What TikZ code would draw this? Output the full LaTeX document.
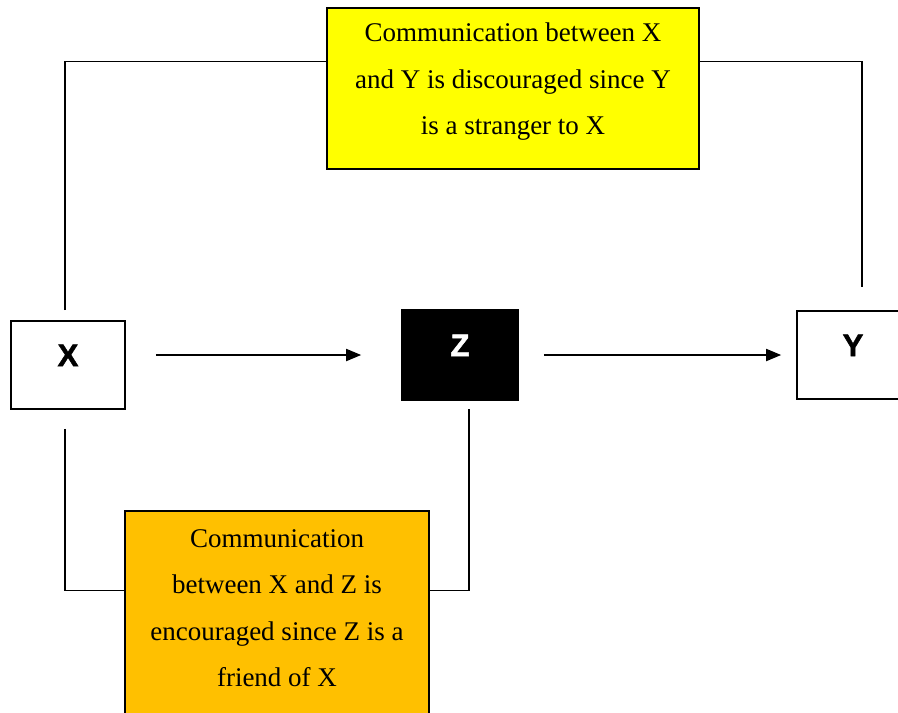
\documentclass[tikz,border=0pt]{standalone}
\usepackage{fontspec}
\setmainfont{Liberation Serif}
\newfontfamily\letterfont[BoldFeatures={FakeBold=1.6}]{Liberation Sans}
\usetikzlibrary{arrows.meta,positioning}
\definecolor{cNoteY}{HTML}{FFFF00}
\definecolor{cNoteO}{HTML}{FFC000}

\begin{document}
\begin{tikzpicture}[x=1pt,y=-1pt,
  party/.style={draw,line width=1.6pt,minimum width=114pt,minimum height=88pt,
    font=\letterfont\bfseries\fontsize{31}{31}\selectfont,text height=22pt,text depth=20pt},
  note/.style={draw,line width=1.6pt,inner sep=0pt},
  notetxt/.style={align=center,font=\fontsize{27}{46.5}\selectfont},
  link/.style={line width=1.3pt},
  arr/.style={-{Triangle[length=15pt,width=12pt]},line width=1.8pt}]

  \useasboundingbox (0,0) rectangle (898,713);

  % the three parties
  \node[party] (x) at (68,365) {X};
  \node[party,fill=black,text=white,minimum width=116pt,minimum height=90pt] (z) at (460,355) {Z};
  \node[party,minimum width=112pt] (y) at (853,355) {Y};

  % notes
  \node[note,fill=cNoteY,minimum width=372pt,minimum height=161pt] (stranger) at (513,88.5) {};
  \node[notetxt] (strangertxt) at (513,82)
    {Communication between X\\and Y is discouraged since Y\\is a stranger to X};
  \node[note,fill=cNoteO,minimum width=304pt,minimum height=230pt] (friend) at (277,626) {};
  \node[notetxt] (friendtxt) at (277,608)
    {Communication\\between X and Z is\\encouraged since Z is a\\friend of X};

  % message flow
  \draw[arr] ([xshift=30pt,yshift=10pt]x.east) -- ([xshift=-40pt]z.west);
  \draw[arr] ([xshift=25pt]z.east) -- ([xshift=-15pt]y.west);

  % links to the notes
  \coordinate (xtop) at ([xshift=-3pt,yshift=10pt]x.north);
  \coordinate (xbot) at ([xshift=-3pt,yshift=-19pt]x.south);
  \coordinate (ytop) at ([xshift=9pt,yshift=23pt]y.north);
  \coordinate (zbot) at ([xshift=9pt,yshift=-8pt]z.south);
  \draw[link] (xtop) |- ([yshift=-54pt]stranger.north west);
  \draw[link] ([yshift=-54pt]stranger.north east) -| (ytop);
  \draw[link] (xbot) |- ([yshift=-80pt]friend.north west);
  \draw[link] ([yshift=-80pt]friend.north east) -| (zbot);
\end{tikzpicture}
\end{document}
